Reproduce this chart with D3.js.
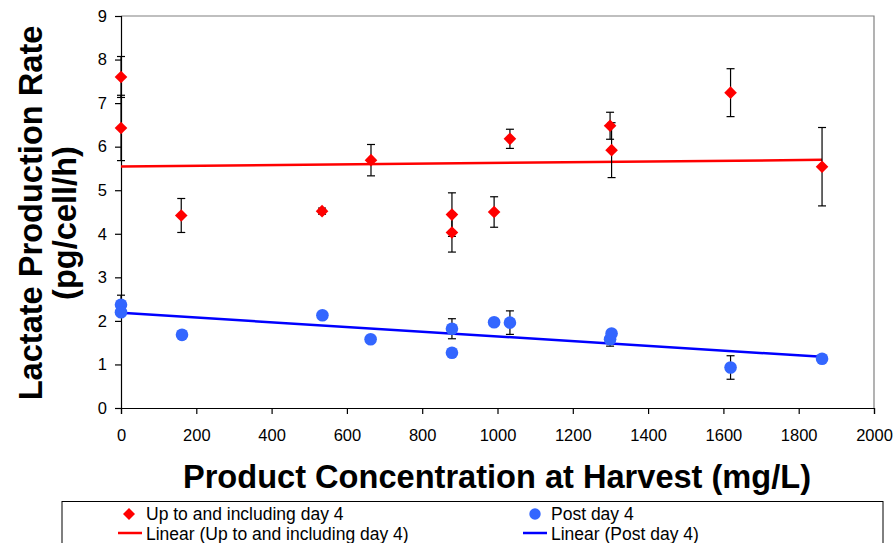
<!DOCTYPE html>
<html><head><meta charset="utf-8">
<script src="https://cdn.jsdelivr.net/npm/d3@7/dist/d3.min.js"></script>
<style>
body{margin:0;background:#fff;}
svg{display:block;font-family:"Liberation Sans",Arial,sans-serif;}
</style></head><body>
<svg id="c" width="893" height="543"></svg>
<script>
// Data
const earlyX   = [0, 0, 160, 534, 664, 879, 879, 991, 1033, 1299, 1303, 1619, 1862];
const earlyY   = [7.60, 6.43, 4.42, 4.52, 5.69, 4.44, 4.03, 4.50, 6.18, 6.48, 5.92, 7.24, 5.54];
const earlyErr = [0.47, 0.75, 0.39, 0.07, 0.36, 0.50, 0.45, 0.35, 0.22, 0.31, 0.63, 0.55, 0.90];
const postX    = [0, 0, 162, 535, 663, 879, 879, 991, 1033, 1299, 1303, 1619, 1862];
const postY    = [2.37, 2.20, 1.68, 2.13, 1.58, 1.82, 1.27, 1.97, 1.96, 1.58, 1.71, 0.93, 1.13];
const postErr  = [0.22, 0.05, 0.05, 0.05, 0.05, 0.23, 0.05, 0.05, 0.27, 0.16, 0.05, 0.27, 0.05];
const xTicks = [0,200,400,600,800,1000,1200,1400,1600,1800,2000];
const yTicks = [0,1,2,3,4,5,6,7,8,9];
const seriesNames = ["Up to and including day 4","Post day 4","Linear (Up to and including day 4)","Linear (Post day 4)"];

const svg = d3.select("#c");
const L=121, R=874, T=16, B=408;
const x = d3.scaleLinear().domain([0,2000]).range([L,R]);
const y = d3.scaleLinear().domain([0,9]).range([B,T]);

// plot border (top/right gray)
svg.append("path").attr("d",`M${L},${T}H${R}V${B}`).attr("fill","none").attr("stroke","#808080").attr("stroke-width",1.2);

// axes
const xa = svg.append("g").attr("transform",`translate(0,${B})`)
  .call(d3.axisBottom(x).tickValues(xTicks).tickSize(6).tickPadding(15).tickFormat(d3.format("d")));
const ya = svg.append("g").attr("transform",`translate(${L},0)`)
  .call(d3.axisLeft(y).tickValues(yTicks).tickSize(6).tickPadding(8));
[xa,ya].forEach(g=>{
  g.selectAll("path").attr("stroke","#000").attr("stroke-width",1.2);
  g.selectAll("line").attr("stroke","#000").attr("stroke-width",1.2);
  g.selectAll("text").attr("font-size",16.5).attr("fill","#000").attr("font-family","Liberation Sans, Arial, sans-serif");
});

// regression
function fit(xs,ys){
  const n=xs.length, mx=d3.mean(xs), my=d3.mean(ys);
  let sxy=0,sxx=0; for(let i=0;i<n;i++){sxy+=(xs[i]-mx)*(ys[i]-my);sxx+=(xs[i]-mx)**2;}
  const b=sxy/sxx; return {a:my-b*mx,b};
}
function trend(xs,ys,color){
  const f=fit(xs,ys), x0=d3.min(xs), x1=d3.max(xs);
  svg.append("line").attr("x1",x(x0)).attr("x2",x(x1))
    .attr("y1",y(f.a+f.b*x0)).attr("y2",y(f.a+f.b*x1))
    .attr("stroke",color).attr("stroke-width",2.5);
}
trend(earlyX,earlyY,"#FF0000");
trend(postX,postY,"#0000FF");

// error bars
function errs(xs,ys,es){
  const g=svg.append("g").attr("stroke","#000").attr("stroke-width",1.2);
  xs.forEach((v,i)=>{
    const cx=x(v), y1=y(ys[i]+es[i]), y2=y(ys[i]-es[i]);
    g.append("line").attr("x1",cx).attr("x2",cx).attr("y1",y1).attr("y2",y2);
    g.append("line").attr("x1",cx-4).attr("x2",cx+4).attr("y1",y1).attr("y2",y1);
    g.append("line").attr("x1",cx-4).attr("x2",cx+4).attr("y1",y2).attr("y2",y2);
  });
}
errs(earlyX,earlyY,earlyErr);
errs(postX,postY,postErr);

const diamond = (cx,cy,s)=>`M${cx},${cy-s}L${cx+s},${cy}L${cx},${cy+s}L${cx-s},${cy}Z`;
svg.append("g").selectAll("path").data(earlyX).join("path")
  .attr("d",(d,i)=>diamond(x(d),y(earlyY[i]),6.3)).attr("fill","#FF0000");
svg.append("g").selectAll("circle").data(postX).join("circle")
  .attr("cx",d=>x(d)).attr("cy",(d,i)=>y(postY[i])).attr("r",6.3).attr("fill","#3366FF");

// axis titles
svg.append("text").attr("x",497).attr("y",488).attr("text-anchor","middle")
  .attr("font-size",32.6).attr("font-weight","bold").text("Product Concentration at Harvest (mg/L)");
svg.append("text").attr("transform","translate(42,213) rotate(-90)").attr("text-anchor","middle")
  .attr("font-size",32.6).attr("font-weight","bold").text("Lactate Production Rate");
svg.append("text").attr("transform","translate(76,223) rotate(-90)").attr("text-anchor","middle")
  .attr("font-size",32.6).attr("font-weight","bold").text("(pg/cell/h)");

// legend
svg.append("rect").attr("x",62).attr("y",501.5).attr("width",821).attr("height",60)
  .attr("fill","#fff").attr("stroke","#000").attr("stroke-width",1);
const lg = svg.append("g").attr("font-size",17.5);
lg.append("path").attr("d",diamond(129,514,6)).attr("fill","#FF0000");
lg.append("text").attr("x",146).attr("y",520).text(seriesNames[0]);
lg.append("circle").attr("cx",535).attr("cy",514).attr("r",5.7).attr("fill","#3366FF");
lg.append("text").attr("x",551).attr("y",520).text(seriesNames[1]);
lg.append("line").attr("x1",118).attr("x2",142).attr("y1",533).attr("y2",533).attr("stroke","#FF0000").attr("stroke-width",2.5);
lg.append("text").attr("x",146).attr("y",540).text(seriesNames[2]);
lg.append("line").attr("x1",523).attr("x2",547).attr("y1",533).attr("y2",533).attr("stroke","#0000FF").attr("stroke-width",2.5);
lg.append("text").attr("x",551).attr("y",540).text(seriesNames[3]);
</script>
</body></html>
